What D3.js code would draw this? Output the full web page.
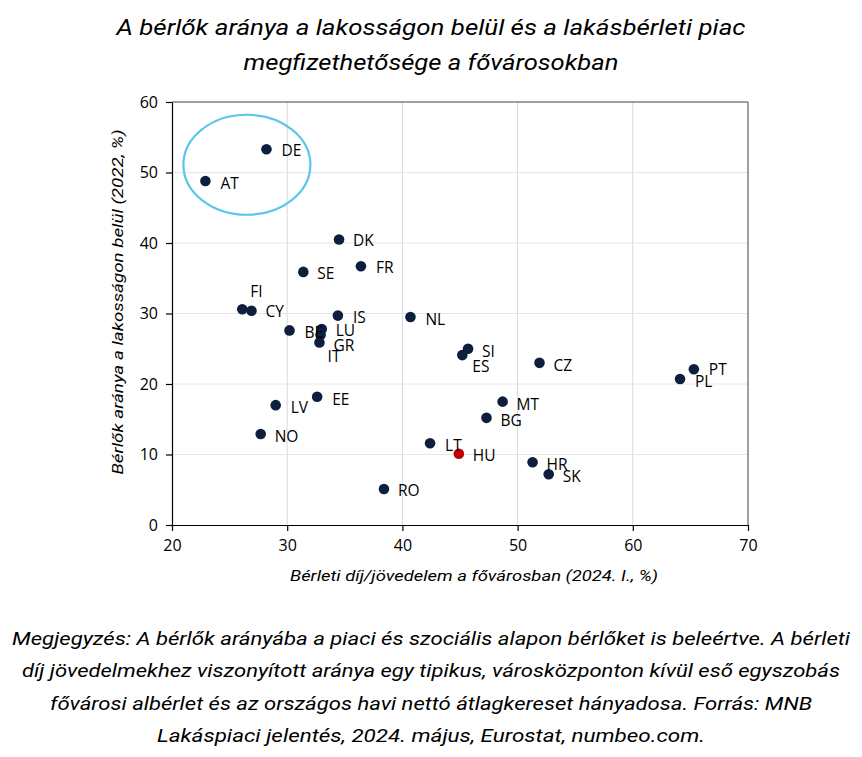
<!DOCTYPE html>
<html><head><meta charset="utf-8">
<script src="https://cdn.jsdelivr.net/npm/d3@7"></script>
<style>body{margin:0;background:#fff}svg{display:block}</style>
</head><body>
<svg id="c" width="862" height="757"></svg>
<script>
const countries = ["DE","AT","DK","FR","SE","FI","CY","BE","LU","IT","GR","IS","NL","SI","ES","CZ","MT","BG","LT","HU","HR","SK","PT","PL","LV","EE","NO","RO"];
const rentToIncome = [28.2,22.9,34.5,36.4,31.4,26.1,26.9,30.2,33.0,32.9,32.8,34.4,40.7,45.7,45.2,51.9,48.7,47.3,42.4,44.9,51.3,52.7,65.3,64.1,29.0,32.6,27.7,38.4];
const tenantShare = [53.3,48.8,40.5,36.7,35.9,30.6,30.4,27.6,27.8,27.0,25.9,29.7,29.5,25.0,24.1,23.0,17.5,15.2,11.6,10.1,8.9,7.2,22.1,20.7,17.0,18.2,12.9,5.1];
const xTicks = [20,30,40,50,60,70];
const yTicks = [0,10,20,30,40,50,60];
const highlight = "HU";
const titleLines = ["A bérlők aránya a lakosságon belül és a lakásbérleti piac","megfizethetősége a fővárosokban"];
const xTitle = "Bérleti díj/jövedelem a fővárosban (2024. I., %)";
const yTitle = "Bérlők aránya a lakosságon belül (2022, %)";
const noteLines = ["Megjegyzés: A bérlők arányába a piaci és szociális alapon bérlőket is beleértve. A bérleti",
"díj jövedelmekhez viszonyított aránya egy tipikus, városközponton kívül eső egyszobás",
"fővárosi albérlet és az országos havi nettó átlagkereset hányadosa. Forrás: MNB",
"Lakáspiaci jelentés, 2024. május, Eurostat, numbeo.com."];

// label offsets (layout only)
const labelOff = {DE:[15,1],AT:[15,2],DK:[14,1],FR:[15,1],SE:[14,1],FI:[8,-18],CY:[14,0],BE:[15,2],
LU:[14,1],IT:[7,21],GR:[14,3],IS:[15,1],NL:[15,2],SI:[14,2],ES:[10,11],CZ:[14,2],MT:[14,2],BG:[14,2],
LT:[15,2],HU:[14,1],HR:[14,2],SK:[14,2],PT:[15,0],PL:[15,2],LV:[15,2],EE:[15,2],NO:[14,2],RO:[14,1]};

const svg = d3.select("#c");
const L=172,R=748,T=102,B=525;
const x = d3.scaleLinear().domain([20,70]).range([L,R]);
const y = d3.scaleLinear().domain([0,60]).range([B,T]);

// gridlines
svg.append("g").selectAll("line").data(xTicks.slice(1,-1)).join("line")
  .attr("x1",d=>x(d)).attr("x2",d=>x(d)).attr("y1",T).attr("y2",B)
  .attr("stroke","#d9d9d9").attr("stroke-width",1);
svg.append("g").selectAll("line").data(yTicks.slice(1,-1)).join("line")
  .attr("x1",L).attr("x2",R).attr("y1",d=>y(d)).attr("y2",d=>y(d))
  .attr("stroke","#e6e6e6").attr("stroke-width",1);
// top/right border
svg.append("line").attr("x1",L).attr("x2",R).attr("y1",T).attr("y2",T).attr("stroke","#404040");
svg.append("line").attr("x1",R).attr("x2",R).attr("y1",T).attr("y2",B).attr("stroke","#404040");

const tickFont = "'Open Sans', sans-serif";
const xAxis = svg.append("g").attr("transform",`translate(0,${B})`)
  .call(d3.axisBottom(x).tickValues(xTicks).tickSize(6).tickSizeOuter(0).tickPadding(9));
const yAxis = svg.append("g").attr("transform",`translate(${L},0)`)
  .call(d3.axisLeft(y).tickValues(yTicks).tickSize(6).tickSizeOuter(0).tickPadding(8));
[xAxis,yAxis].forEach(a=>{
  a.selectAll("path,line").attr("stroke","#000").attr("stroke-width",1.2);
  a.selectAll("text").attr("font-family",tickFont).attr("font-size",16).attr("fill","#000");
});

// points
svg.append("g").selectAll("circle").data(countries).join("circle")
  .attr("cx",(d,i)=>x(rentToIncome[i])).attr("cy",(d,i)=>y(tenantShare[i]))
  .attr("r",5.3).attr("fill",d=>d===highlight?"#c00000":"#0d1f3f");
svg.append("g").selectAll("text").data(countries).join("text")
  .attr("x",(d,i)=>x(rentToIncome[i])+labelOff[d][0])
  .attr("y",(d,i)=>y(tenantShare[i])+labelOff[d][1])
  .attr("dominant-baseline","central")
  .attr("font-family","'Open Sans', sans-serif").attr("font-size",15.5).attr("fill","#000")
  .text(d=>d);

// ellipse around AT/DE
svg.append("ellipse").attr("cx",x(26.5)).attr("cy",y(51.1)).attr("rx",63.5).attr("ry",50)
  .attr("fill","none").attr("stroke","#5bc5ea").attr("stroke-width",2.2);

function fitText(sel, w){ sel.attr("textLength",w).attr("lengthAdjust","spacingAndGlyphs"); }

// axis titles
fitText(svg.append("text").attr("x",474).attr("y",581).attr("text-anchor","middle")
  .attr("font-family","Roboto, sans-serif").attr("font-style","italic").attr("font-size",15.5)
  .text(xTitle), 368);
fitText(svg.append("text").attr("transform","translate(123,302) rotate(-90)").attr("text-anchor","middle")
  .attr("font-family","Roboto, sans-serif").attr("font-style","italic").attr("font-size",15.5)
  .text(yTitle), 345);

// title
const tw=[629,375], ty=[35,70];
titleLines.forEach((t,i)=>fitText(svg.append("text").attr("x",431).attr("y",ty[i]).attr("text-anchor","middle")
  .attr("font-family","Roboto, sans-serif").attr("font-style","italic").attr("font-size",22)
  .text(t), tw[i]));

// note
const nw=[838,818,762,548], ny=[645,677,710,742];
noteLines.forEach((t,i)=>fitText(svg.append("text").attr("x",431).attr("y",ny[i]).attr("text-anchor","middle")
  .attr("font-family","Roboto, sans-serif").attr("font-style","italic").attr("font-size",19)
  .text(t), nw[i]));
</script>
</body></html>
